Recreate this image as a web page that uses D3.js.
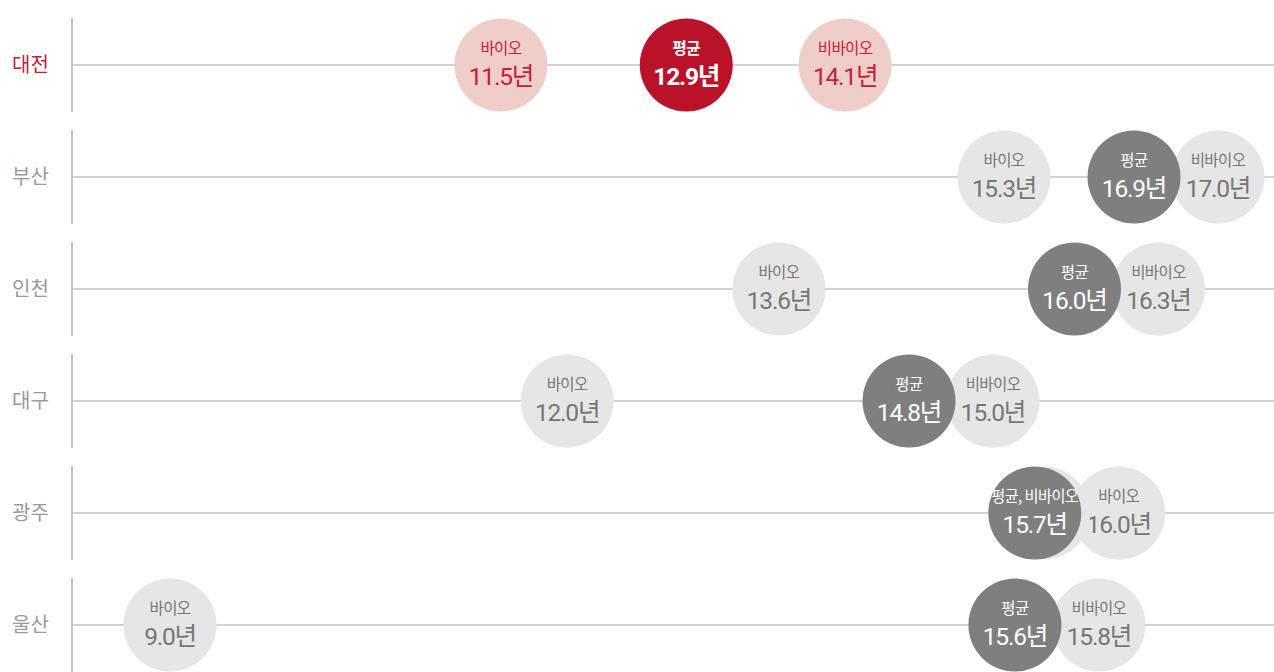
<!DOCTYPE html>
<html><head><meta charset="utf-8">
<script src="https://cdn.jsdelivr.net/npm/d3@7/dist/d3.min.js"></script>
<style>
html,body{margin:0;padding:0;background:#fff;}
svg{display:block;font-family:Roboto,"Noto Sans CJK KR",sans-serif;}
</style></head><body>
<svg id="chart" width="1274" height="672"></svg>
<script>
const cities = ["대전","부산","인천","대구","광주","울산"];
const bioValues = [11.5, 15.3, 13.6, 12.0, 16.0, 9.0];
const avgValues = [12.9, 16.9, 16.0, 14.8, 15.7, 15.6];
const nonBioValues = [14.1, 17.0, 16.3, 15.0, 15.7, 15.8];
const seriesNames = ["바이오", "평균", "비바이오"];
const highlightCity = "대전";

const W = 1274, H = 672, R = 46.5, minGap = 84;
const svg = d3.select("#chart");
const x = d3.scaleLinear().domain([9, 17]).range([170, 1229]);
const y = d3.scaleBand().domain(cities).range([9, 681]).paddingInner(0);
const axisX = 72, maxX = 1218;
const fmt = d3.format(".1f");

const colors = {
  hi: {main:"#ba1229", light:"#efcdc8", lightText:"#c4203a", mainText:"#ffffff", label:"#c4203a"},
  lo: {main:"#7f7f7f", light:"#e6e6e6", lightText:"#767676", mainText:"#ffffff", label:"#9a9a9a"}
};

cities.forEach((city, i) => {
  const cy = y(city) + y.bandwidth() / 2;
  const pal = city === highlightCity ? colors.hi : colors.lo;
  const g = svg.append("g");

  g.append("text").attr("x", 12).attr("y", cy + 7)
    .attr("font-size", 20).attr("fill", pal.label)
    .attr("font-family", '"Noto Sans CJK KR",sans-serif')
    .text(city);
  g.append("line").attr("x1", axisX).attr("x2", axisX)
    .attr("y1", cy - 47).attr("y2", cy + 47)
    .attr("stroke", "#c4c4c4").attr("stroke-width", 2);
  g.append("line").attr("x1", axisX).attr("x2", W)
    .attr("y1", cy).attr("y2", cy)
    .attr("stroke", "#c4c4c4").attr("stroke-width", 1.5);

  const vals = [bioValues[i], avgValues[i], nonBioValues[i]];
  let nodes = vals.map((v, k) => ({k, v, x: x(v), label: seriesNames[k], hidden: false}));
  const avgNode = nodes[1];
  nodes.forEach(n => {
    if (n.k !== 1 && n.v === avgNode.v) {
      n.hidden = true; n.mergeWith = avgNode;
      avgNode.label = avgNode.label + ", " + n.label;
    }
  });
  const groups = nodes.filter(n => !n.hidden).sort((a, b) => a.v - b.v);
  for (let it = 0; it < 60; it++) {
    for (let j = 0; j < groups.length - 1; j++) {
      const a = groups[j], b = groups[j + 1];
      const d = b.x - a.x;
      if (d < minGap) { const s = (minGap - d) / 2; a.x -= s; b.x += s; }
    }
    groups.forEach(n => { n.x = Math.min(maxX, Math.max(axisX + R + 10, n.x)); });
  }
  nodes.forEach(n => { if (n.hidden) n.x = n.mergeWith.x + 9; });

  const order = nodes.slice().sort((a, b) => (a.k === 1) - (b.k === 1));
  order.forEach(n => {
    const isAvg = n.k === 1;
    const fill = isAvg ? pal.main : pal.light;
    const tc = isAvg ? pal.mainText : pal.lightText;
    const bold = isAvg && city === highlightCity;
    g.append("circle").attr("cx", n.x).attr("cy", cy).attr("r", R).attr("fill", fill);
    if (n.hidden) return;
    const lab = g.append("text").attr("x", n.x).attr("y", cy - 11)
      .attr("text-anchor", "middle").attr("font-size", 15.5)
      .attr("font-family", '"Noto Sans CJK KR",sans-serif')
      .attr("font-weight", bold ? 700 : 400)
      .attr("letter-spacing", "-0.6px")
      .attr("fill", tc).text(n.label);
    const lw = lab.node().getComputedTextLength();
    if (lw > 2 * R - 6) {
      lab.attr("textLength", 2 * R - 6).attr("lengthAdjust", "spacingAndGlyphs");
    }
    const t = g.append("text").attr("x", n.x).attr("y", cy + 20)
      .attr("text-anchor", "middle").attr("font-size", 24.5)
      .attr("font-weight", bold ? 700 : 400)
      .attr("letter-spacing", "-1.2px")
      .attr("fill", tc);
    t.append("tspan").text(fmt(n.v));
    t.append("tspan").attr("font-family", '"Noto Sans CJK KR",sans-serif').text("년");
  });
});
</script></body></html>
